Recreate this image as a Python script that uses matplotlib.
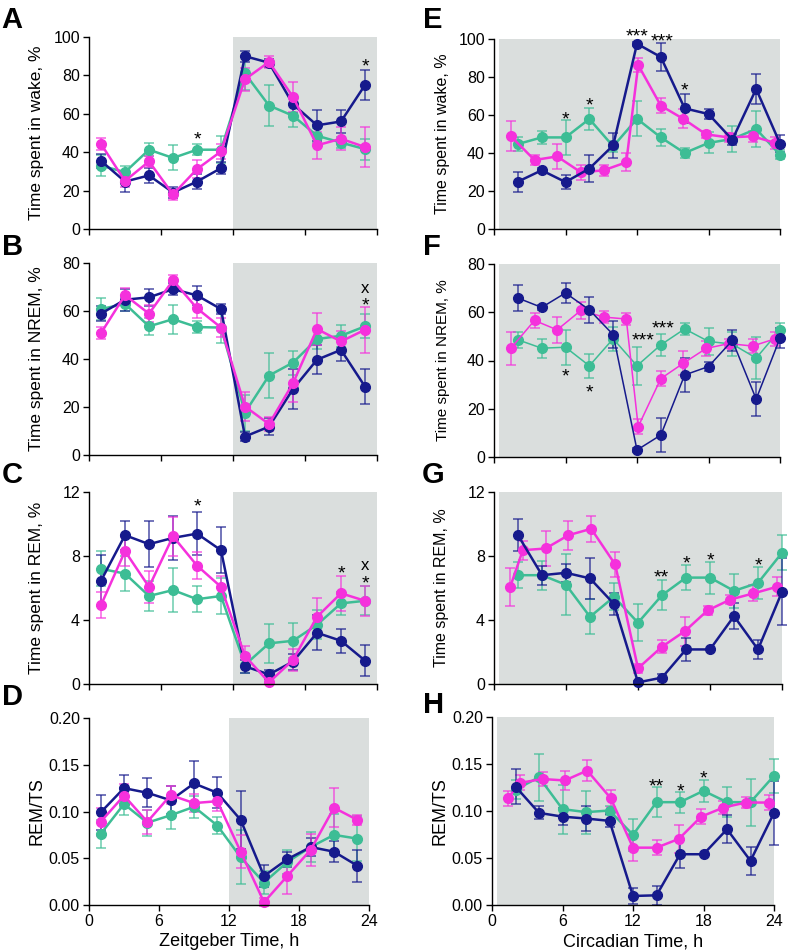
import matplotlib
matplotlib.use("Agg")
import matplotlib.pyplot as plt
from matplotlib.ticker import FormatStrFormatter

plt.rcParams['font.family'] = ['Liberation Sans', 'DejaVu Sans']

# colours
NAVY = '#161a8c'
MAG = '#f531dc'
GRN = '#3dbd95'
SHADE = '#dadedd'

# time points
zt = [1, 3, 5, 7, 9, 11, 13, 15, 17, 19, 21, 23]
ct = [2, 4, 6, 8, 10, 12, 14, 16, 18, 20, 22, 24]
ct_mag_ef = [1.4, 3.4, 5.3, 7.3, 9.2, 11.1, 12.1, 14.0, 15.9, 17.8, 19.7, 21.7, 23.6]
ct_mag_gh = [1.35, 2.4, 4.3, 6.2, 8.1, 10.1, 12.0, 14.0, 15.9, 17.8, 19.7, 21.6, 23.55]

# A - wake, ZT
a_navy = [35.5, 24.7, 27.9, 19.0, 24.7, 31.7, 90.0, 86.6, 65.0, 54.0, 56.0, 75.0]
a_navy_err = [3.8, 5.5, 4.0, 3.0, 3.8, 3.2, 2.8, 2.0, 4.5, 8.0, 5.8, 7.6]
a_mag = [44.3, 25.0, 35.2, 18.0, 31.2, 40.4, 78.0, 87.0, 68.8, 43.6, 47.0, 42.7]
a_mag_err = [3.0, 3.0, 3.0, 3.0, 4.5, 4.0, 6.0, 3.0, 8.0, 7.0, 6.0, 10.5]
a_grn = [33.0, 29.6, 41.3, 37.0, 41.3, 41.3, 81.0, 64.3, 59.0, 48.6, 45.0, 41.6]
a_grn_err = [5.5, 3.0, 3.5, 6.5, 3.0, 7.0, 8.5, 10.5, 6.0, 4.0, 3.0, 5.5]

# B - NREM, ZT
b_navy = [58.9, 64.7, 65.7, 69.1, 66.5, 60.8, 7.7, 11.8, 27.5, 39.7, 43.8, 28.5]
b_navy_err = [3.0, 4.5, 3.5, 2.5, 4.0, 2.0, 2.0, 3.5, 8.3, 6.0, 4.5, 7.3]
b_mag = [50.8, 66.6, 58.9, 72.8, 61.1, 53.1, 20.2, 12.9, 29.9, 52.5, 47.3, 52.2]
b_mag_err = [2.5, 3.0, 3.5, 2.2, 4.0, 4.0, 6.0, 3.0, 8.0, 6.5, 4.5, 9.6]
b_grn = [60.8, 63.0, 53.6, 56.6, 53.3, 53.1, 17.7, 33.1, 38.5, 48.3, 49.7, 53.6]
b_grn_err = [4.5, 3.0, 3.5, 6.0, 2.5, 6.5, 7.5, 9.5, 5.0, 4.0, 4.5, 5.0]

# C - REM, ZT
c_navy = [6.45, 9.3, 8.74, 9.13, 9.4, 8.36, 1.1, 0.6, 1.4, 3.2, 2.7, 1.46]
c_navy_err = [1.6, 0.9, 1.45, 1.4, 1.35, 1.45, 0.4, 0.3, 0.5, 1.1, 0.75, 0.95]
c_mag = [4.93, 8.3, 6.07, 9.23, 7.4, 6.07, 1.75, 0.1, 1.5, 4.2, 5.67, 5.2]
c_mag_err = [0.8, 0.9, 1.0, 1.2, 0.85, 0.65, 0.6, 0.1, 0.7, 1.2, 1.1, 0.95]
c_grn = [7.2, 6.9, 5.5, 5.87, 5.3, 5.5, 1.2, 2.54, 2.7, 3.7, 5.04, 5.2]
c_grn_err = [1.1, 1.1, 0.95, 1.35, 0.8, 1.1, 0.5, 1.2, 1.1, 0.9, 0.7, 0.9]

# D - REM/TS, ZT
d_navy = [0.099, 0.125, 0.120, 0.112, 0.130, 0.120, 0.091, 0.031, 0.049, 0.062, 0.057, 0.042]
d_navy_err = [0.019, 0.014, 0.0155, 0.015, 0.0235, 0.0165, 0.031, 0.012, 0.008, 0.01, 0.011, 0.017]
d_mag = [0.089, 0.117, 0.089, 0.1175, 0.109, 0.111, 0.057, 0.003, 0.031, 0.059, 0.104, 0.091]
d_mag_err = [0.015, 0.012, 0.013, 0.01, 0.01, 0.01, 0.0175, 0.004, 0.019, 0.017, 0.021, 0.005]
d_grn = [0.076, 0.108, 0.088, 0.096, 0.105, 0.085, 0.051, 0.024, 0.046, 0.062, 0.075, 0.071]
d_grn_err = [0.015, 0.012, 0.014, 0.015, 0.012, 0.009, 0.029, 0.012, 0.013, 0.016, 0.022, 0.024]

# E - wake, CT
e_navy = [24.9, 30.9, 24.7, 31.8, 44.0, 97.5, 90.5, 63.5, 60.5, 47.0, 73.7, 45.0]
e_navy_err = [5.3, 1.0, 3.7, 7.0, 6.5, 1.0, 7.4, 7.5, 2.5, 3.0, 7.7, 4.6]
e_mag = [48.9, 36.3, 38.2, 29.8, 30.9, 35.1, 86.3, 64.9, 57.9, 49.8, 48.2, 48.8, 45.3]
e_mag_err = [7.8, 2.5, 6.5, 4.0, 3.0, 4.8, 3.5, 4.0, 5.0, 2.0, 2.5, 3.0, 3.0]
e_grn = [44.7, 48.2, 48.2, 57.9, 43.5, 58.0, 48.2, 40.0, 45.3, 47.4, 52.6, 39.1]
e_grn_err = [3.5, 3.5, 9.3, 6.0, 3.0, 9.2, 4.5, 2.5, 5.5, 7.0, 9.5, 2.5]

# F - NREM, CT
f_navy = [65.9, 62.0, 68.0, 61.0, 50.7, 2.9, 9.1, 34.0, 37.5, 48.3, 24.0, 49.3]
f_navy_err = [5.3, 1.0, 4.2, 5.3, 5.5, 1.0, 7.0, 6.9, 2.0, 4.5, 7.0, 4.0]
f_mag = [45.0, 56.6, 52.7, 60.8, 58.0, 57.2, 12.6, 32.5, 38.9, 45.0, 47.0, 46.0, 49.0]
f_mag_err = [7.0, 3.0, 5.5, 3.5, 2.5, 2.5, 3.0, 3.0, 5.0, 3.0, 2.0, 3.0, 3.0]
f_grn = [48.6, 45.1, 45.5, 37.8, 49.0, 37.8, 46.5, 53.1, 47.9, 46.8, 41.0, 52.7]
f_grn_err = [3.3, 4.0, 7.2, 5.0, 5.0, 7.8, 4.5, 2.5, 5.5, 5.0, 8.8, 3.0]

# G - REM, CT
g_navy = [9.3, 6.8, 6.95, 6.6, 5.0, 0.1, 0.4, 2.16, 2.16, 4.24, 2.16, 5.76]
g_navy_err = [1.0, 0.6, 0.55, 1.3, 0.7, 0.1, 0.2, 0.7, 0.0, 0.8, 0.6, 2.1]
g_mag = [6.07, 8.36, 8.47, 9.3, 9.7, 7.47, 0.98, 2.33, 3.3, 4.6, 5.28, 5.66, 6.07]
g_mag_err = [1.2, 0.6, 1.1, 0.9, 0.8, 0.8, 0.3, 0.4, 0.9, 0.3, 0.3, 0.5, 0.6]
g_grn = [6.8, 6.8, 6.2, 4.2, 5.45, 3.83, 5.55, 6.65, 6.65, 5.82, 6.32, 8.2]
g_grn_err = [0.8, 0.9, 1.9, 1.1, 0.85, 1.15, 0.95, 0.8, 1.0, 1.05, 1.0, 1.1]

# H - REM/TS, CT
h_navy = [0.126, 0.098, 0.094, 0.092, 0.0895, 0.0096, 0.0103, 0.054, 0.054, 0.0806, 0.047, 0.098]
h_navy_err = [0.019, 0.007, 0.009, 0.013, 0.007, 0.009, 0.01, 0.015, 0.0, 0.015, 0.015, 0.034]
h_mag = [0.1137, 0.130, 0.134, 0.1325, 0.143, 0.1137, 0.061, 0.061, 0.0703, 0.094, 0.1037, 0.109, 0.109]
h_mag_err = [0.008, 0.008, 0.007, 0.01, 0.011, 0.009, 0.014, 0.008, 0.015, 0.008, 0.007, 0.006, 0.008]
h_grn = [0.1225, 0.136, 0.102, 0.0988, 0.1005, 0.0746, 0.1094, 0.1094, 0.1215, 0.1094, 0.1094, 0.1375]
h_grn_err = [0.01, 0.025, 0.026, 0.023, 0.005, 0.017, 0.016, 0.011, 0.012, 0.016, 0.025, 0.018]

# significance marks: (text, x, y)
a_marks = [('*', 9, 50.3), ('*', 23, 88.3)]
b_marks = [('x', 23, 69.6), ('*', 23, 65.2)]
c_marks = [('*', 9, 11.5), ('*', 21, 7.3), ('x', 23, 7.45), ('*', 23, 6.7)]
d_marks = []
e_marks = [('***', 12, 104.8), ('***', 14.1, 102.4), ('*', 6, 61), ('*', 8, 68.4), ('*', 16, 76.5)]
f_marks = [('*', 6, 36.1), ('*', 8, 29.6), ('***', 12.55, 51.0), ('***', 14.15, 56.2)]
g_marks = [('**', 13.9, 7.1), ('*', 16, 7.95), ('*', 18, 8.12), ('*', 22, 7.84)]
h_marks = [('**', 14.0, 0.1332), ('*', 16, 0.1279), ('*', 18, 0.1421)]

fig = plt.figure(figsize=(7.92, 9.5), dpi=100)
W, H = 792.0, 950.0


def make_ax(left, right, top, bottom):
    return fig.add_axes([left / W, 1 - bottom / H, (right - left) / W, (bottom - top) / H])


def panel(ax, series, ylim, yticks, shade_from, ylabel, ylfs, marks, lw=1.8, fmt=None):
    ax.axvspan(shade_from, 24, ymin=0, ymax=1, color=SHADE, lw=0, zorder=0)
    for x, y, e, c in series:
        ax.errorbar(x, y, yerr=e, fmt='none', ecolor=c, alpha=0.7, elinewidth=1.2,
                    capsize=3.5, capthick=1.2, clip_on=False, zorder=2)
        ax.plot(x, y, '-o', color=c, lw=lw, ms=7, clip_on=False, zorder=3)
    ax.set_xlim(0, 24)
    ax.set_ylim(*ylim)
    ax.set_xticks([0, 6, 12, 18, 24])
    ax.set_yticks(yticks)
    if fmt:
        ax.yaxis.set_major_formatter(FormatStrFormatter(fmt))
    for s in ['top', 'right']:
        ax.spines[s].set_visible(False)
    for s in ['left', 'bottom']:
        ax.spines[s].set_linewidth(1.0)
        ax.spines[s].set_zorder(4)
    ax.tick_params(direction='out', length=4.5, width=1.0, labelsize=11.5, pad=2)
    ax.set_ylabel(ylabel, fontsize=ylfs)
    ax.yaxis.set_label_coords(-0.155, 0.5)
    for txt, x, y in marks:
        fs = 12 if txt == 'x' else 14
        off = -0.32 * fs if txt == 'x' else -0.6 * fs
        ax.annotate(txt, xy=(x, y), xytext=(0, off), textcoords='offset points',
                    ha='center', va='baseline', fontsize=fs, annotation_clip=False, zorder=5)


axA = make_ax(89, 377, 37, 229)
axB = make_ax(89, 377, 263, 455)
axC = make_ax(89, 377, 492, 684)
axD = make_ax(89, 369, 718, 905)
axE = make_ax(494, 780, 39, 229)
axF = make_ax(494, 780, 264, 457)
axG = make_ax(494, 782, 492, 684)
axH = make_ax(492, 774, 717, 905)

panel(axA, [(zt, a_grn, a_grn_err, GRN), (zt, a_navy, a_navy_err, NAVY), (zt, a_mag, a_mag_err, MAG)],
      (0, 100), [0, 20, 40, 60, 80, 100], 12, 'Time spent in wake, %', 12.5, a_marks)
panel(axB, [(zt, b_grn, b_grn_err, GRN), (zt, b_navy, b_navy_err, NAVY), (zt, b_mag, b_mag_err, MAG)],
      (0, 80), [0, 20, 40, 60, 80], 12, 'Time spent in NREM, %', 12.5, b_marks)
panel(axC, [(zt, c_grn, c_grn_err, GRN), (zt, c_navy, c_navy_err, NAVY), (zt, c_mag, c_mag_err, MAG)],
      (0, 12), [0, 4, 8, 12], 12, 'Time spent in REM, %', 12.5, c_marks)
panel(axD, [(zt, d_grn, d_grn_err, GRN), (zt, d_navy, d_navy_err, NAVY), (zt, d_mag, d_mag_err, MAG)],
      (0, 0.2), [0, 0.05, 0.10, 0.15, 0.20], 12, 'REM/TS', 13, d_marks, fmt='%.2f')

panel(axE, [(ct, e_grn, e_grn_err, GRN), (ct_mag_ef, e_mag, e_mag_err, MAG), (ct, e_navy, e_navy_err, NAVY)],
      (0, 100), [0, 20, 40, 60, 80, 100], 0.45, 'Time spent in wake, %', 11.5, e_marks)
panel(axF, [(ct, f_grn, f_grn_err, GRN), (ct_mag_ef, f_mag, f_mag_err, MAG), (ct, f_navy, f_navy_err, NAVY)],
      (0, 80), [0, 20, 40, 60, 80], 0.45, 'Time spent in NREM, %', 11, f_marks, lw=1.1)
panel(axG, [(ct, g_grn, g_grn_err, GRN), (ct_mag_gh, g_mag, g_mag_err, MAG), (ct, g_navy, g_navy_err, NAVY)],
      (0, 12), [0, 4, 8, 12], 0.45, 'Time spent in REM, %', 11.5, g_marks)
panel(axH, [(ct, h_grn, h_grn_err, GRN), (ct_mag_gh, h_mag, h_mag_err, MAG), (ct, h_navy, h_navy_err, NAVY)],
      (0, 0.2), [0, 0.05, 0.10, 0.15, 0.20], 0.45, 'REM/TS', 13, h_marks, fmt='%.2f')

for ax in [axA, axB, axC, axE, axF, axG]:
    ax.tick_params(axis='x', labelbottom=False)
axD.set_xlabel('Zeitgeber Time, h', fontsize=13, labelpad=3)
axH.set_xlabel('Circadian Time, h', fontsize=13, labelpad=3)

# panel letters
letters = [('A', 1, 28), ('B', 2, 255), ('C', 2, 483), ('D', 2, 705),
           ('E', 423, 28), ('F', 423, 255), ('G', 422, 483), ('H', 423, 713)]
for lab, px, py in letters:
    fig.text(px / W, 1 - py / H, lab, fontsize=21, fontweight='bold', ha='left', va='baseline')

fig.savefig('out.png', dpi=100)
